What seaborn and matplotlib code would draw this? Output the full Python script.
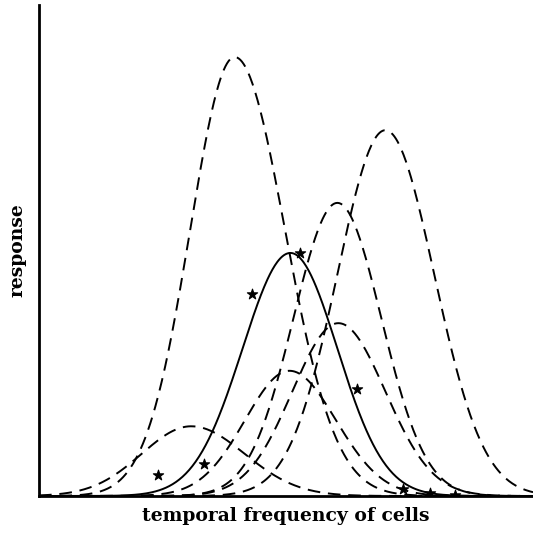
import numpy as np
import pandas as pd
import matplotlib
matplotlib.use("Agg")
import matplotlib.pyplot as plt
import seaborn as sns

# tuning curves of the cells (gaussian shape): centre, peak height,
# width on the low side and on the high side of the centre
cells = ["cell 1", "cell 2", "cell 3", "cell 4", "cell 5", "cell 6", "population"]
centres = [39.6, 70.1, 60.4, 60.6, 50.7, 30.8, 50.9]
peaks = [89.4, 74.5, 59.7, 35.2, 25.5, 14.2, 49.5]
widths_low = [9.0, 9.7, 8.9, 9.3, 9.0, 10.0, 9.7]
widths_high = [10.2, 9.9, 8.9, 9.5, 9.4, 10.8, 9.5]

# measured responses (stars)
star_x = [24.0, 33.5, 43.1, 52.8, 64.3, 73.7, 79.2, 84.3]
star_y = [4.2, 6.6, 41.2, 49.5, 21.8, 1.4, 0.7, 0.3]

freq = np.linspace(0, 100, 600)
rows = []
for name, c, a, wl, wh in zip(cells, centres, peaks, widths_low, widths_high):
    w = np.where(freq < c, wl, wh)
    resp = a * np.exp(-0.5 * ((freq - c) / w) ** 2)
    rows.append(pd.DataFrame({"freq": freq, "response": resp, "cell": name}))
curves = pd.concat(rows, ignore_index=True)
stars = pd.DataFrame({"freq": star_x, "response": star_y})

sns.set_theme(style="white")
plt.rcParams["font.family"] = ["DejaVu Serif"]
plt.rcParams["text.color"] = "black"
plt.rcParams["axes.labelcolor"] = "black"

fig = plt.figure(figsize=(5.33, 5.42), dpi=100)
ax = fig.add_axes([39 / 533, 46 / 542, 1 - 39 / 533, 491 / 542])

dash_map = {name: (6.5, 4.0) for name in cells}
dash_map["population"] = ""
sns.lineplot(data=curves, x="freq", y="response", hue="cell", style="cell",
             palette=["black"] * len(cells), dashes=dash_map, legend=False,
             linewidth=1.4, ax=ax, sort=False)
sns.scatterplot(data=stars, x="freq", y="response", marker="*", s=60,
                color="black", edgecolor="black", linewidth=0.8, zorder=5, ax=ax)

ax.set_xlim(0, 100)
ax.set_ylim(0, 100)
ax.set_xticks([])
ax.set_yticks([])
for side in ["top", "right"]:
    ax.spines[side].set_visible(False)
for side in ["left", "bottom"]:
    ax.spines[side].set_color("black")
    ax.spines[side].set_linewidth(2.0)

ax.set_xlabel("temporal frequency of cells", fontsize=13.5, fontweight="bold", labelpad=8)
ax.set_ylabel("response", fontsize=13.5, fontweight="bold", labelpad=9)

fig.savefig("out.png", dpi=100)
